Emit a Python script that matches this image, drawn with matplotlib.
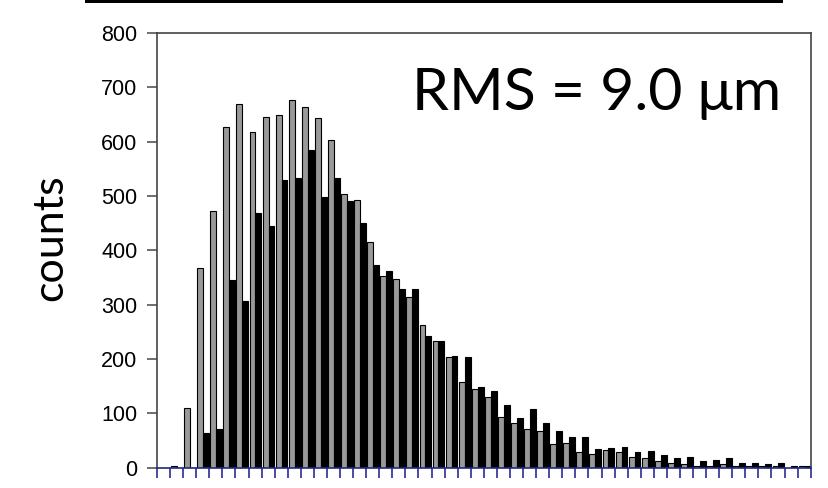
import numpy as np
import matplotlib
matplotlib.use("Agg")
import matplotlib.pyplot as plt
from matplotlib.patches import Rectangle

# counts per bin, two runs side by side (grey = first, black = second)
bins = np.arange(50)
grey_counts = [0, 3, 110, 367, 472, 627, 669, 618, 646, 649,
               677, 663, 644, 604, 503, 492, 416, 353, 347, 314,
               263, 233, 203, 158, 144, 130, 94, 83, 71, 67,
               43, 46, 29, 25, 33, 28, 20, 17, 13, 9,
               6, 3, 3, 6, 3, 3, 4, 3, 0, 3]
black_counts = [0, 0, 0, 63, 71, 346, 306, 469, 444, 529,
                534, 585, 498, 534, 490, 450, 373, 362, 328, 328,
                242, 233, 206, 204, 149, 142, 116, 91, 108, 82,
                68, 57, 57, 34, 36, 39, 28, 31, 23, 17,
                20, 13, 15, 17, 9, 9, 6, 9, 3, 3]
y_ticks = list(range(0, 801, 100))
rms_text = "RMS = 9.0 μm"

W, H = 829, 488
fig = plt.figure(figsize=(W / 100, H / 100), dpi=100)

# header rule across the top
fig.add_artist(Rectangle((85 / W, 1 - 3 / H), (783 - 85) / W, 3 / H,
                         transform=fig.transFigure, color="black", lw=0))

ax = fig.add_axes([157 / W, 20.3 / H, (810.7 - 157) / W, (455 - 20.3) / H])

ax.bar(bins + 0.08, grey_counts, width=0.45, align="edge",
       color="#999999", edgecolor="black", linewidth=0.8)
ax.bar(bins + 0.53, black_counts, width=0.45, align="edge",
       color="black", edgecolor="black", linewidth=0.8)

ax.set_xlim(0, 50)
ax.set_ylim(0, 800)
ax.set_xticks(np.arange(51))
ax.set_xticklabels([])
ax.set_yticks(y_ticks)
ax.set_yticklabels([str(t) for t in y_ticks], fontsize=15.5,
                   family="Liberation Sans")

for s in ax.spines.values():
    s.set_color("#444444")
    s.set_linewidth(1.2)
ax.spines["bottom"].set_color("#1f2a80")
ax.tick_params(axis="x", direction="out", length=7, width=1.2, color="#2a2a9a")
ax.tick_params(axis="y", direction="out", length=7, width=1.2, color="#555555",
               pad=7)

ax.text(0.955, 0.823, rms_text, transform=ax.transAxes, ha="right",
        va="baseline", fontsize=42.5, family="Lato")

fig.text(50.5 / W, 1 - 237.5 / H, "counts", rotation=90, ha="center",
         va="center", fontsize=31, family="Lato")

fig.savefig("out.png", dpi=100)
